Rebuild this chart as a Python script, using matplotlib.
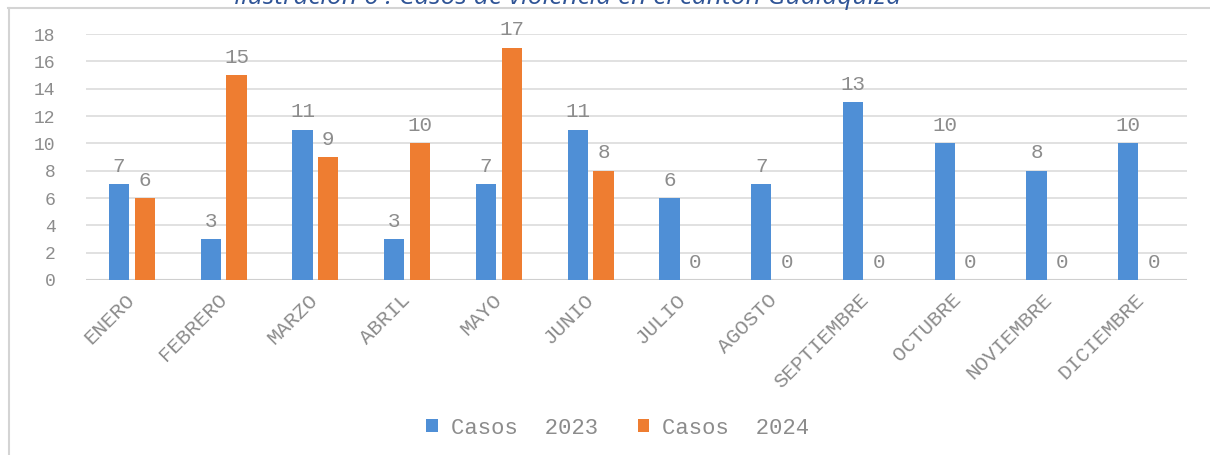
import numpy as np
import matplotlib.pyplot as plt
from matplotlib.lines import Line2D

# Data
MONTHS = ["ENERO", "FEBRERO", "MARZO", "ABRIL", "MAYO", "JUNIO", "JULIO",
          "AGOSTO", "SEPTIEMBRE", "OCTUBRE", "NOVIEMBRE", "DICIEMBRE"]
CASOS_2023 = [7, 3, 11, 3, 7, 11, 6, 7, 13, 10, 8, 10]
CASOS_2024 = [6, 15, 9, 10, 17, 8, 0, 0, 0, 0, 0, 0]
Y_TICKS = [0, 2, 4, 6, 8, 10, 12, 14, 16, 18]

BLUE = "#4f8fd6"
ORANGE = "#ee7d31"
GRAY_TXT = "#8c8c8c"
GRID = "#dcdcdc"
MONO = "Liberation Mono"

W, H = 1210, 455
fig = plt.figure(figsize=(W / 100, H / 100), dpi=100)
ax = fig.add_axes([86 / W, 1 - 280 / H, (1187 - 86) / W, (280 - 34) / H])

# chart frame: only top and left edges show
fig.lines.append(Line2D([8 / W, 1.0], [1 - 8 / H, 1 - 8 / H], transform=fig.transFigure,
                        color="#d4d4d4", lw=1.5))
fig.lines.append(Line2D([9 / W, 9 / W], [0, 1 - 8 / H], transform=fig.transFigure,
                        color="#d4d4d4", lw=1.5))

# clipped caption above the chart
fig.text(568 / W, 1 - 4 / H,
         "Ilustración 6 : Casos de violencia en el cantón Gualaquiza",
         ha="center", va="baseline", fontsize=19, style="italic",
         color="#2f5496", family="Open Sans")

x = np.arange(len(MONTHS))
bw = 0.22
off = 0.14
b1 = ax.bar(x - off, CASOS_2023, bw, color=BLUE, label="Casos  2023", zorder=3)
b2 = ax.bar(x + off, CASOS_2024, bw, color=ORANGE, label="Casos  2024", zorder=3)

for bars in (b1, b2):
    for rect in bars:
        v = rect.get_height()
        ax.annotate(f"{v:g}", (rect.get_x() + rect.get_width() / 2, v),
                    xytext=(0, 6), textcoords="offset points",
                    ha="center", va="bottom", fontsize=15,
                    color=GRAY_TXT, family=MONO)

ax.set_xlim(-0.5, len(MONTHS) - 0.5)
ax.set_ylim(0, 18)
ax.set_yticks(Y_TICKS)
ax.yaxis.grid(True, color=GRID, lw=1.2, zorder=0)
ax.axhline(0, color="#cfcfcf", lw=1.5, zorder=2)
ax.set_axisbelow(True)
for s in ax.spines.values():
    s.set_visible(False)
ax.tick_params(length=0)
ax.tick_params(axis="y", pad=22)
ax.tick_params(axis="x", pad=12)
ax.set_xticks(x)
ax.set_xticklabels(MONTHS, rotation=45, ha="right", va="center", rotation_mode="anchor")
for lab in ax.get_yticklabels():
    lab.set_family(MONO)
    lab.set_fontsize(13)
    lab.set_color(GRAY_TXT)
for lab in ax.get_xticklabels():
    lab.set_family(MONO)
    lab.set_fontsize(15)
    lab.set_color(GRAY_TXT)

fig.legend(handles=[b1, b2], loc="center", bbox_to_anchor=(618 / W, 1 - 428 / H),
           ncol=2, frameon=False, handlelength=0.5, handleheight=0.5,
           handletextpad=0.6, columnspacing=1.8,
           prop={"family": MONO, "size": 16}, labelcolor=GRAY_TXT)

fig.savefig("out.png", dpi=100)
